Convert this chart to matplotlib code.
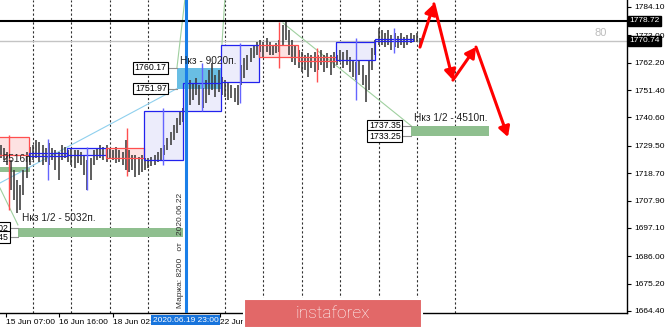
"""
    Gold H1 chart with daily range boxes, target zones and a projected path.
"""

import matplotlib.pyplot as plt
import matplotlib.transforms as mtransforms
from matplotlib.patches import Rectangle

plt.rcParams['font.family'] = ['Liberation Sans', 'DejaVu Sans']

# x = trading hour index (weekend skipped), 0 = 15 Jun 00:00
bar_hour = list(range(4, 268, 2))
bar_high = [1729.7, 1728.6, 1727.0, 1723.8, 1719.9, 1716.0, 1714.0, 1719.9, 1727.0, 1729.0, 1729.7, 1731.7,
            1730.9, 1729.7, 1728.6, 1730.5, 1728.6, 1727.8, 1727.0, 1729.7, 1729.0, 1727.8, 1728.6, 1727.8,
            1727.8, 1727.0, 1725.8, 1723.8, 1724.6, 1727.8, 1728.6, 1729.7, 1729.0, 1729.7, 1728.6, 1727.8,
            1729.0, 1727.8, 1727.0, 1731.7, 1727.8, 1725.8, 1725.8, 1725.0, 1725.8, 1724.6, 1724.6, 1725.0,
            1725.8, 1727.0, 1728.6, 1729.7, 1732.5, 1734.9, 1737.6, 1740.4, 1742.7, 1744.3, 1753.4, 1755.3,
            1754.2, 1756.1, 1753.4, 1752.2, 1755.3, 1759.3, 1762.0, 1757.3, 1759.3, 1756.5, 1755.3, 1754.6,
            1753.4, 1752.2, 1753.4, 1761.2, 1764.0, 1765.2, 1767.9, 1769.1, 1770.3, 1771.1, 1770.3, 1771.9,
            1770.3, 1769.1, 1769.9, 1771.1, 1777.0, 1778.2, 1775.0, 1771.1, 1769.1, 1767.2, 1766.4, 1765.2,
            1766.0, 1765.2, 1766.4, 1765.2, 1767.2, 1765.2, 1766.0, 1765.2, 1766.4, 1765.2, 1767.2, 1766.4,
            1767.2, 1764.4, 1763.2, 1762.4, 1763.2, 1761.2, 1757.3, 1763.2, 1767.9, 1771.1, 1775.8, 1775.0,
            1773.8, 1775.0, 1773.1, 1773.8, 1772.7, 1773.8, 1772.3, 1773.1, 1773.8, 1773.1, 1773.8, 1771.9]
bar_low = [1724.6, 1723.8, 1721.9, 1712.0, 1708.1, 1703.0, 1704.2, 1710.1, 1716.8, 1721.9, 1723.8, 1724.6,
           1723.1, 1721.9, 1723.1, 1721.9, 1723.8, 1719.9, 1716.0, 1723.8, 1724.6, 1723.1, 1721.9, 1720.7,
           1722.7, 1721.9, 1717.9, 1712.0, 1716.0, 1721.9, 1723.8, 1724.6, 1723.8, 1723.1, 1724.6, 1723.8,
           1722.7, 1723.1, 1721.9, 1719.9, 1719.1, 1719.9, 1717.2, 1717.9, 1719.1, 1719.9, 1720.7, 1721.5,
           1721.9, 1723.1, 1723.8, 1725.8, 1727.8, 1729.7, 1731.7, 1734.5, 1737.6, 1738.8, 1743.5, 1745.5,
           1747.5, 1749.4, 1745.5, 1744.3, 1746.3, 1749.4, 1751.4, 1748.6, 1750.6, 1749.4, 1748.6, 1747.5,
           1748.3, 1746.7, 1745.5, 1753.4, 1756.1, 1759.3, 1762.4, 1764.0, 1765.2, 1766.4, 1764.4, 1766.4,
           1765.2, 1765.2, 1766.0, 1766.4, 1769.1, 1771.1, 1765.2, 1762.4, 1761.2, 1760.1, 1758.5, 1759.3,
           1756.5, 1760.1, 1758.5, 1759.3, 1761.2, 1758.5, 1760.1, 1757.3, 1760.1, 1761.2, 1762.4, 1760.1,
           1761.2, 1758.5, 1756.5, 1755.3, 1757.3, 1753.4, 1746.7, 1751.4, 1759.3, 1765.2, 1769.1, 1769.1,
           1768.3, 1769.1, 1767.2, 1768.3, 1767.9, 1769.1, 1767.9, 1769.1, 1769.9, 1770.3, 1770.3, 1769.1]

day_sep = [24, 48, 72, 96, 144, 168, 192, 216, 240, 264, 288]
now_hour = 119.5

# daily range boxes
box_start = [-2.5, 21.5, 45.5, 69.5, 93.5, 117.5, 141.5, 165.5, 189.5, 213.5, 237.5]
box_top = [1732.9, 1726.6, 1728.6, 1728.6, 1743.1, 1754.2, 1769.1, 1769.1, 1764.4, 1770.3, 1771.5]
box_bot = [1725.8, 1725.4, 1725.8, 1724.6, 1723.8, 1743.1, 1754.6, 1764.4, 1762.8, 1763.2, 1770.7]
box_up = [False, True, True, False, True, True, True, False, False, True, True]
wick_hour = [9, 33.4, 57.8, 82.8, 105.3, 129.6, 153.4, 177.8, 201.5, 225.9, 249.6]
wick_high = [1733.7, 1732.1, 1729.0, 1736.4, 1744.3, 1762.0, 1769.9, 1778.2, 1767.9, 1771.9, 1775.8]
wick_low = [1704.2, 1716.0, 1712.0, 1717.6, 1721.9, 1743.1, 1746.3, 1760.1, 1754.6, 1747.5, 1766.0]

# zones: (hour from, hour to, price low, price high)
zone_blue = (114, 142.1, 1751.97, 1760.17)
zone_green = [(-5, 22, 1719.1, 1721.1), (14.6, 117.8, 1693.45, 1697.02), (260.3, 309, 1733.25, 1737.35)]

level_black = 1778.72
level_grey = 1770.74

# projected path
path_hour = [265.9, 274.6, 286.5, 300.9, 320.9]
path_price = [1768.3, 1785.3, 1755.3, 1768.3, 1732.9]

yticks = [1784.10, 1773.00, 1762.20, 1751.40, 1740.60, 1729.50, 1718.70, 1707.90, 1697.10, 1686.00, 1675.20, 1664.40]
xtick_hours = [7, 40, 74, 141]
xtick_labels = ['15 Jun 07:00', '16 Jun 16:00', '18 Jun 02:00', '22 Jun 21:00']


def price_tag(ax, xr, price, x_to):
    ax.plot([xr, x_to], [price, price], color='#909090', lw=0.8, zorder=4)
    ax.text(xr - 0.8, price, '%.2f' % price, ha='right', va='center', fontsize=6.3, zorder=6,
            bbox=dict(fc='white', ec='black', lw=0.8, pad=1.0), clip_on=True)


def main():
    fig = plt.figure(figsize=(6.65, 3.30), dpi=100)
    ax = fig.add_axes([0, 17 / 330, 627 / 665, 313 / 330])
    ax.set_xlim(3.4, 395.3)
    ax.set_ylim(1663.61, 1786.84)

    for s in ['left', 'top']:
        ax.spines[s].set_visible(False)
    for s in ['right', 'bottom']:
        ax.spines[s].set_color('black')
        ax.spines[s].set_linewidth(1.0)

    # day separators
    ax.vlines(day_sep, 1663.61, 1786.84, colors='#303030', lw=0.8, linestyles=(0, (2, 2)), zorder=0.5)

    # range boxes
    for i in range(len(box_start)):
        fill = '#ececfb' if box_up[i] else '#fde2e2'
        edge = '#2222ee' if box_up[i] else '#ff4f4f'
        r = Rectangle((box_start[i], box_bot[i]), 24, box_top[i] - box_bot[i], fc=fill, ec='none', zorder=1)
        ax.add_patch(r)
        r = Rectangle((box_start[i], box_bot[i]), 24, box_top[i] - box_bot[i], fc='none', ec=edge, lw=0.9, zorder=3)
        ax.add_patch(r)
        ax.vlines(wick_hour[i], wick_low[i], wick_high[i], colors='#6464ff' if box_up[i] else '#ff5050',
                  lw=1.0, zorder=3)

    # zones
    x0, x1, p0, p1 = zone_blue
    ax.add_patch(Rectangle((x0, p0), x1 - x0, p1 - p0, fc='#4fb3e0', ec='none', alpha=0.85, zorder=1.5))
    for x0, x1, p0, p1 in zone_green:
        ax.add_patch(Rectangle((x0, p0), x1 - x0, p1 - p0, fc='#8fbf8f', ec='none', zorder=1.5))

    # helper lines
    ax.plot([3.4, zone_blue[0]], [1714.8, zone_blue[2]], color='#8fd0ee', lw=0.8, zorder=1.6)
    ax.plot([3.4, 14.6], [1712.8, 1698.3], color='#9fd09f', lw=0.8, zorder=1.6)
    ax.plot([zone_blue[0], 119.5], [zone_blue[3], 1790], color='#9fd09f', lw=0.8, zorder=1.6)
    ax.plot([142.1, 144.2], [1769.1, 1790], color='#9fd09f', lw=0.8, zorder=1.6)
    ax.plot([180.3, 260.3], [1777.8, 1737.35], color='#9fd09f', lw=0.8, zorder=1.6)

    # price bars
    ax.vlines(bar_hour, bar_low, bar_high, colors='#3a3a3a', lw=1.15, zorder=2)

    # levels
    ax.axhline(level_black, color='black', lw=1.5, zorder=4)
    ax.axhline(level_grey, color='#c4c4c4', lw=1.0, zorder=0.8)
    ax.text(382.8, 1773.8, '80', ha='right', va='center', fontsize=8, color='#bdbdbd')

    # current bar marker
    ax.axvline(now_hour, color='#1a7fe8', lw=2.2, zorder=5)
    ax.text(now_hour - 3.2, 1665.6, 'Маржа: 8200   от   2020.06.22', rotation=90, ha='center', va='bottom',
            fontsize=6, color='#303030', zorder=5)

    # tags
    price_tag(ax, 108.4, zone_blue[3], zone_blue[0])
    price_tag(ax, 108.4, zone_blue[2], zone_blue[0])
    price_tag(ax, 254.6, zone_green[2][3], zone_green[2][0])
    price_tag(ax, 254.6, zone_green[2][2], zone_green[2][0])
    price_tag(ax, 9.6, zone_green[1][3], zone_green[1][0])
    price_tag(ax, 9.6, zone_green[1][2], zone_green[1][0])

    ax.text(115.9, 1762.8, 'Нкз - 9020п.', fontsize=7.3, color='#222222', va='center', zorder=6)
    ax.text(17.2, 1701.0, 'Нкз 1/2 - 5032п.', fontsize=7.3, color='#222222', va='center', zorder=6)
    ax.text(262.0, 1740.4, 'Нкз 1/2 - 4510п.', fontsize=7.3, color='#222222', va='center', zorder=6)
    ax.text(24.6, 1724.2, 'Нкз - 2516п.', fontsize=7.3, color='#222222', va='center', ha='right', zorder=6,
            clip_on=True)

    # projected path
    for i in range(len(path_hour) - 1):
        ax.annotate('', xy=(path_hour[i + 1], path_price[i + 1]), xytext=(path_hour[i], path_price[i]),
                    arrowprops=dict(arrowstyle='-|>,head_length=0.5,head_width=0.28', color='#ff0000',
                                    lw=2.2, mutation_scale=12, shrinkA=0, shrinkB=0), zorder=7)

    # axes ticks
    ax.yaxis.tick_right()
    ax.set_yticks(yticks)
    ax.set_yticklabels(['%.2f' % v for v in yticks])
    ax.tick_params(axis='y', direction='out', length=3, width=0.8, labelsize=6, pad=2)
    ax.set_xticks(xtick_hours)
    ax.set_xticklabels(xtick_labels)
    for lab in ax.get_xticklabels():
        lab.set_horizontalalignment('left')
    ax.tick_params(axis='x', direction='out', length=3, width=0.8, labelsize=6, pad=1.5)

    trans_y = mtransforms.blended_transform_factory(ax.transAxes, ax.transData)
    for lvl in [level_black, level_grey]:
        ax.text(1.004, lvl, '%.2f' % lvl, transform=trans_y, ha='left', va='center', fontsize=6,
                color='white', bbox=dict(fc='black', ec='black', pad=1.0), clip_on=False, zorder=8)

    trans_x = mtransforms.blended_transform_factory(ax.transData, ax.transAxes)
    ax.text(now_hour, -0.012, '2020.06.19 23:00', transform=trans_x, ha='center', va='top', fontsize=6,
            color='white', bbox=dict(fc='#1874dc', ec='none', pad=1.2), clip_on=False, zorder=8)

    # watermark logo
    logo = Rectangle((244 / 665, 2 / 330), 178 / 665, 29 / 330, transform=fig.transFigure,
                     fc='#e26868', ec='white', lw=1.5, zorder=10)
    fig.add_artist(logo)
    fig.text(333 / 665, 16 / 330, 'instaforex', ha='center', va='center', color='white', fontsize=12.5,
             family=['Roboto', 'DejaVu Sans'], fontweight='light', zorder=11)

    fig.savefig('out.png', dpi=100)


if __name__ == '__main__':
    main()
